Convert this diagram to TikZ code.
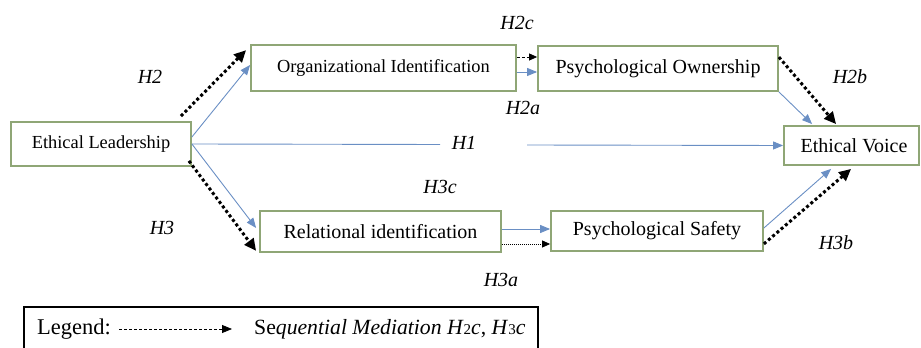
\documentclass[tikz,border=0pt]{standalone}
\usepackage{fontspec}
\setmainfont{Liberation Serif}
\usetikzlibrary{arrows.meta}
\definecolor{boxgreen}{RGB}{143,166,118}
\definecolor{linkblue}{RGB}{106,143,196}

\begin{document}
\begin{tikzpicture}[x=1pt, y=1pt,
		construct/.style = {draw=boxgreen, line width=1.8pt, inner sep=0pt, font=\fontsize{20}{24}\selectfont},
		direct/.style = {draw=linkblue, line width=0.9pt, -{Triangle[length=10pt,width=8pt]}},
		chain/.style = {line width=3pt, dash pattern=on 3pt off 2.6pt, -{Triangle[length=12pt,width=11pt]}},
		seq/.style = {line width=0.8pt, dash pattern=on 3pt off 2pt, -{Triangle[length=8pt,width=7pt]}},
		hyp/.style = {font=\fontsize{20}{24}\selectfont\itshape}]
	\useasboundingbox (0,0) rectangle (921,348);

	\node [construct, minimum width=180pt, minimum height=44pt, font=\fontsize{18.4}{22}\selectfont] (lead) at (101,204) {Ethical Leadership\hspace{14pt}};
	\node [construct, minimum width=265pt, minimum height=46pt, font=\fontsize{18.4}{22}\selectfont] (orgid) at (383.5,280) {Organizational Identification};
	\node [construct, minimum width=240pt, minimum height=45pt] (own) at (658,279.5) {Psychological Ownership};
	\node [construct, minimum width=135pt, minimum height=39pt] (voice) at (851.5,202.5) {\hspace{5pt}Ethical Voice};
	\node [construct, minimum width=241pt, minimum height=41pt] (relid) at (380.5,116.5) {Relational identification};
	\node [construct, minimum width=212pt, minimum height=40pt] (safety) at (657,117) {Psychological Safety\hspace{13pt}};

	% direct paths
	\begin{scope}[direct]
		\draw ([yshift=7pt]lead.east) -- ([yshift=3pt]orgid.west);
		\draw (lead.east) -- ([xshift=-3pt, yshift=3.5pt]relid.west);
		\draw ([yshift=-4pt]orgid.east) -- ([yshift=-3.5pt]own.west);
		\draw (own.south east) -- ([xshift=29pt, yshift=1pt]voice.north west);
		\draw ([yshift=2.5pt]relid.east) -- ([yshift=2pt]safety.west);
		\draw ([yshift=3pt]safety.east) -- ([xshift=48pt, yshift=-3pt]voice.south west);
	\end{scope}

	\coordinate (gapl) at (440,203.5);
	\coordinate (gapr) at (527,203);
	\draw [draw=linkblue, line width=0.9pt] (lead.east) -- (gapl);
	\draw [direct] (gapr) -- (voice.west);

	% mediation chains
	\begin{scope}[chain]
		\draw ([xshift=-11pt, yshift=5pt]lead.north east) -- ([xshift=-4pt, yshift=-6pt]orgid.north west);
		\draw ([xshift=-3pt, yshift=6pt]lead.south east) -- ([xshift=-3pt, yshift=2pt]relid.south west);
		\draw ([yshift=-12pt]own.north east) -- ([xshift=53pt, yshift=1pt]voice.north west);
		\draw ([yshift=8pt]safety.south east) -- ([xshift=68pt, yshift=-3pt]voice.south west);
	\end{scope}

	\draw [seq] ([yshift=11pt]orgid.east) -- ([yshift=11.5pt]own.west);
	\draw [seq, dash pattern=on 1pt off 1pt] ([yshift=-12.5pt]relid.east) -- ([yshift=-13pt]safety.west);

	\foreach \x/\y/\lab in {150/271/H2, 517/325/H2c, 523/240/H2a, 850/271/H2b, 464/205/H1, 440/161/H3c, 162/120/H3, 501/68/H3a, 836/105/H3b}
	{
		\node [hyp] (hyp-\lab) at (\x,\y) {\lab};
	}

	% legend
	\draw [line width=1.2pt] (24,-5) rectangle (538,41);
	\node [anchor=west, inner sep=0pt, font=\fontsize{22.5}{26}\selectfont] (legtitle) at (37,19) {Legend:};
	\coordinate (legstart) at (119,19);
	\coordinate (legend) at (232,19);
	\draw [seq, -{Triangle[length=10pt,width=8pt]}] (legstart) -- (legend);
	\node [anchor=west, inner sep=0pt, font=\fontsize{21.7}{26}\selectfont] (legtext) at (254,19) {Se\textit{quential Mediation H}{\fontsize{15}{15}\selectfont 2}\textit{c}, \textit{H}{\fontsize{15}{15}\selectfont 3}\textit{c}};
\end{tikzpicture}
\end{document}
